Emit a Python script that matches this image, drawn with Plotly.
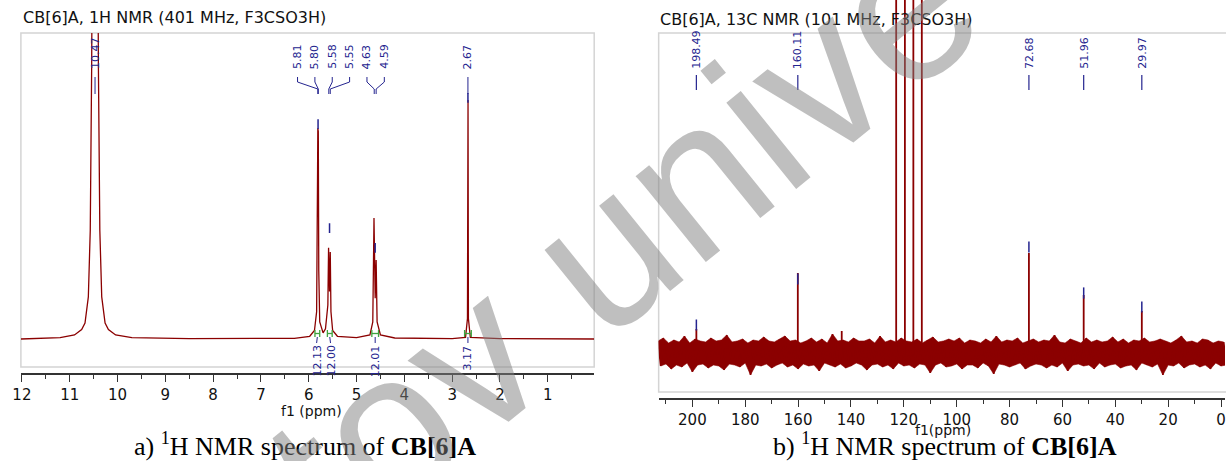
import plotly.graph_objects as go

W, H = 1226, 461

# ---------------- 1H NMR data (ppm, relative intensity) ----------------
h1_ppm = [12.02, 11.2, 10.9, 10.75, 10.68, 10.61, 10.57, 10.54, 10.51, 10.47, 10.43, 10.40,
          10.37, 10.33, 10.26, 10.19, 10.04, 9.7, 8.5, 6.3, 5.98, 5.88, 5.835, 5.815, 5.81,
          5.805, 5.80, 5.79, 5.77, 5.70, 5.65, 5.60, 5.585, 5.565, 5.55, 5.535, 5.50, 5.40,
          5.0, 4.72, 4.66, 4.635, 4.61, 4.59, 4.57, 4.50, 4.2, 3.0, 2.72, 2.68, 2.672, 2.668,
          2.66, 2.62, 2.0, 0.03]
h1_int = [0.0, 0.004, 0.012, 0.028, 0.047, 0.124, 0.32, 0.81, 1.8, 2.5, 1.8, 0.81,
          0.32, 0.124, 0.047, 0.028, 0.012, 0.004, 0.001, 0.002, 0.008, 0.025, 0.08, 0.5, 0.62,
          0.58, 0.61, 0.2, 0.05, 0.018, 0.03, 0.1, 0.268, 0.14, 0.256, 0.08, 0.025, 0.008,
          0.004, 0.012, 0.05, 0.356, 0.12, 0.232, 0.05, 0.012, 0.003, 0.001, 0.005, 0.06, 0.703, 0.703,
          0.06, 0.005, 0.001, 0.0]

h1_peak_labels = ["10.47", "5.81", "5.80", "5.58", "5.55", "4.63", "4.59", "2.67"]
h1_peak_ppm = [10.47, 5.81, 5.80, 5.58, 5.55, 4.63, 4.59, 2.67]
h1_label_groups = [[0], [1, 2, 3, 4, 5, 6], [7]]

h1_pick_ppm = [5.805, 5.565, 4.61, 2.67]
h1_pick_int = [0.632, 0.326, 0.268, 0.709]

h1_int_start = [5.87, 5.61, 4.68, 2.74]
h1_int_end = [5.77, 5.51, 4.54, 2.60]
h1_int_labels = ["12.13", "12.00", "12.01", "3.17"]

# ---------------- 13C NMR data (ppm, intensity a.u.) ----------------
c13_peak_ppm = [198.49, 160.11, 143.5, 122.9, 119.6, 116.4, 113.2, 72.68, 51.96, 29.97]
c13_peak_int = [24, 80, 22, 520, 520, 520, 520, 100, 58, 42]

c13_label_ppm = [198.49, 160.11, 72.68, 51.96, 29.97]
c13_labels = ["198.49", "160.11", "72.68", "51.96", "29.97"]
c13_pick_int = [28, 74, 106, 60, 46]

# baseline noise: upper excursions at odd ppm, lower excursions at even ppm
c13_noise_hi_ppm = [213 - 2 * i for i in range(108)]
c13_noise_lo_ppm = [212 - 2 * i for i in range(108)]
c13_noise_hi = [12, 15, 10, 13, 11, 17, 10, 14, 12, 11, 15, 12, 13, 18, 11, 12, 14, 10, 13, 12,
                16, 12, 11, 14, 17, 12, 13, 10, 12, 15, 11, 14, 10, 19, 12, 13, 11, 15, 12, 12,
                14, 10, 17, 11, 13, 11, 15, 12, 11, 14, 10, 13, 16, 11, 12, 14, 12, 15, 10, 13,
                12, 10, 14, 11, 17, 11, 13, 12, 15, 10, 12, 14, 11, 13, 12, 18, 11, 10, 14, 12,
                10, 15, 11, 13, 11, 12, 16, 11, 14, 10, 13, 12, 15, 11, 12, 14, 12, 10, 13, 17,
                11, 12, 10, 14, 13, 10, 12, 11]
c13_noise_lo = [-13, -11, -16, -12, -14, -10, -19, -12, -11, -15, -12, -13, -17, -11, -12, -14, -10, -22, -12, -13,
                -11, -15, -12, -10, -14, -12, -16, -11, -13, -12, -18, -10, -12, -14, -11, -15, -13, -10, -12, -17,
                -12, -11, -14, -12, -16, -10, -13, -12, -15, -11, -12, -20, -12, -10, -14, -13, -11, -16, -12, -12,
                -15, -10, -13, -21, -11, -12, -14, -12, -10, -16, -13, -11, -12, -15, -12, -14, -10, -18, -12, -11,
                -13, -12, -16, -10, -14, -12, -11, -15, -13, -12, -17, -10, -12, -14, -11, -22, -12, -13, -10, -15,
                -12, -11, -14, -12, -16, -10, -13, -12]

titles = ["CB[6]A, 1H NMR (401 MHz, F3CSO3H)", "CB[6]A, 13C NMR (101 MHz, F3CSO3H)"]
captions = ["a) <sup>1</sup>H NMR spectrum of <b>CB[6]A</b>",
            "b) <sup>1</sup>H NMR spectrum of <b>CB[6]A</b>"]
watermark = "tov unive"

# ---------------- style / layout helpers ----------------
RED = "#8b0000"
BLUE = "#24248f"
GREEN = "#3fa33f"
FRAME = "#d4d4d4"
AX = "#333333"
FONT = "DejaVu Sans"
LAB = 11


def px(x):
    return x / W


def py(y):
    return 1 - y / H


# left panel pixel geometry
L_X0, L_X1, L_TOP, L_AX = 12, 590, 33, 373
L_BASE, L_SCALE = 339, 340.0
L_PPM0, L_PXPPM = 591.4, 48.2
# right panel
R_X0, R_AX, R_BASE = 655, 398, 353
R_PPM0, R_PXPPM = 1222, 2.665


def ly(ypix):
    return (L_BASE - ypix) / L_SCALE


def ry(ypix):
    return float(R_BASE - ypix)


fig = go.Figure()

# ---- 1H spectrum ----
fig.add_trace(go.Scatter(x=h1_ppm, y=h1_int, mode="lines", line=dict(color=RED, width=1.3),
                         xaxis="x", yaxis="y", hoverinfo="skip"))

# integration brackets
bx, by = [], []
for s, e in zip(h1_int_start, h1_int_end):
    bx += [s, s, None, s, e, None, e, e, None]
    by += [ly(330), ly(337), None, ly(333.5), ly(333.5), None, ly(330), ly(337), None]
fig.add_trace(go.Scatter(x=bx, y=by, mode="lines", line=dict(color=GREEN, width=1.3),
                         xaxis="x", yaxis="y", hoverinfo="skip"))

# integral connectors + labels
centers = [(s + e) / 2 for s, e in zip(h1_int_start, h1_int_end)]
lab_pos = list(centers)
min_sep = 14 / L_PXPPM
for i in range(1, len(lab_pos)):
    if lab_pos[i - 1] - lab_pos[i] < min_sep:
        mid = (lab_pos[i - 1] + lab_pos[i]) / 2
        lab_pos[i - 1] = mid + min_sep / 2
        lab_pos[i] = mid - min_sep / 2
cx, cy = [], []
for c, lp in zip(centers, lab_pos):
    cx += [c, c, lp, lp, None]
    cy += [ly(337), ly(339), ly(341), ly(343), None]
fig.add_trace(go.Scatter(x=cx, y=cy, mode="lines", line=dict(color=BLUE, width=1),
                         xaxis="x", yaxis="y", hoverinfo="skip"))

annotations = []
for lp, t in zip(lab_pos, h1_int_labels):
    annotations.append(dict(x=lp, y=py(343), xref="x", yref="paper", text=t, textangle=-90,
                            showarrow=False, xanchor="center", yanchor="top",
                            font=dict(family=FONT, size=LAB, color=BLUE)))

# peak labels with connectors
spacing = 17.5 / L_PXPPM
kx, ky = [], []
for grp in h1_label_groups:
    mean = sum(h1_peak_ppm[i] for i in grp) / len(grp)
    n = len(grp)
    for k, i in enumerate(grp):
        lx = mean + ((n - 1) / 2 - k) * spacing
        pk = h1_peak_ppm[i]
        kx += [lx, lx, pk, pk, None]
        ky += [ly(77), ly(82), ly(89), ly(94), None]
        annotations.append(dict(x=lx, y=py(71), xref="x", yref="paper", text=h1_peak_labels[i],
                                textangle=-90, showarrow=False, xanchor="center", yanchor="bottom",
                                font=dict(family=FONT, size=LAB, color=BLUE)))
fig.add_trace(go.Scatter(x=kx, y=ky, mode="lines", line=dict(color=BLUE, width=1),
                         xaxis="x", yaxis="y", hoverinfo="skip"))

fig.add_trace(go.Scatter(x=h1_pick_ppm, y=h1_pick_int, mode="markers",
                         marker=dict(symbol="line-ns", size=7, line=dict(color=BLUE, width=1.5)),
                         xaxis="x", yaxis="y", hoverinfo="skip"))

# ---- 13C spectrum ----
# solid core of the noise band (envelope polygon)
fig.add_trace(go.Scatter(x=c13_noise_hi_ppm + c13_noise_lo_ppm[::-1],
                         y=c13_noise_hi + c13_noise_lo[::-1],
                         mode="lines", fill="toself", fillcolor=RED, line=dict(color=RED, width=0.6),
                         xaxis="x2", yaxis="y2", hoverinfo="skip"))
# individual noise excursions
nx, ny = [], []
for a, b, u, d in zip(c13_noise_hi_ppm, c13_noise_lo_ppm, c13_noise_hi, c13_noise_lo):
    nx += [a, b]
    ny += [u, d]
fig.add_trace(go.Scatter(x=nx, y=ny, mode="lines", line=dict(color=RED, width=1.6),
                         xaxis="x2", yaxis="y2", hoverinfo="skip"))
pkx, pky = [], []
for p, h in zip(c13_peak_ppm, c13_peak_int):
    pkx += [p, p, None]
    pky += [0, h, None]
fig.add_trace(go.Scatter(x=pkx, y=pky, mode="lines", line=dict(color=RED, width=1.8),
                         xaxis="x2", yaxis="y2", hoverinfo="skip"))
fig.add_trace(go.Scatter(x=c13_label_ppm, y=c13_pick_int, mode="markers",
                         marker=dict(symbol="line-ns", size=8, line=dict(color=BLUE, width=1.5)),
                         xaxis="x2", yaxis="y2", hoverinfo="skip"))
lx2, ly2 = [], []
for p, t in zip(c13_label_ppm, c13_labels):
    lx2 += [p, p, None]
    ly2 += [ry(75), ry(90), None]
    annotations.append(dict(x=p, y=py(71), xref="x2", yref="paper", text=t, textangle=-90,
                            showarrow=False, xanchor="center", yanchor="bottom",
                            font=dict(family=FONT, size=LAB, color=BLUE)))
fig.add_trace(go.Scatter(x=lx2, y=ly2, mode="lines", line=dict(color=BLUE, width=1.2),
                         xaxis="x2", yaxis="y2", hoverinfo="skip"))

# ---- titles, axis titles, captions, watermark ----
annotations += [
    dict(x=px(12), y=py(17), xref="paper", yref="paper", text=titles[0], showarrow=False,
         xanchor="left", yanchor="middle", font=dict(family=FONT, size=16, color="#111")),
    dict(x=px(654), y=py(19), xref="paper", yref="paper", text=titles[1], showarrow=False,
         xanchor="left", yanchor="middle", font=dict(family=FONT, size=16, color="#111")),
    dict(x=px(305), y=py(411), xref="paper", yref="paper", text="f1 (ppm)", showarrow=False,
         xanchor="center", yanchor="middle", font=dict(family=FONT, size=14, color="#111")),
    dict(x=px(942), y=py(430), xref="paper", yref="paper", text="f1(ppm)", showarrow=False,
         xanchor="center", yanchor="middle", font=dict(family=FONT, size=14, color="#111")),
    dict(x=px(298), y=py(444), xref="paper", yref="paper", text=captions[0], showarrow=False,
         xanchor="center", yanchor="middle", font=dict(family="Liberation Serif", size=26, color="#000")),
    dict(x=px(944), y=py(444), xref="paper", yref="paper", text=captions[1], showarrow=False,
         xanchor="center", yanchor="middle", font=dict(family="Liberation Serif", size=26, color="#000")),
    dict(x=px(618), y=py(236), xref="paper", yref="paper", text=watermark, showarrow=False,
         textangle=-39, xanchor="center", yanchor="middle",
         font=dict(family="Liberation Sans", size=210, color="rgba(128,128,128,0.5)")),
]

shapes = [
    dict(type="rect", xref="paper", yref="paper", x0=px(L_X0), x1=px(L_X1), y0=py(367), y1=py(L_TOP),
         line=dict(color=FRAME, width=1.5), layer="below"),
    dict(type="rect", xref="paper", yref="paper", x0=px(R_X0), x1=1.02, y0=py(392), y1=py(33),
         line=dict(color=FRAME, width=1.5), layer="below"),
]

axis_common = dict(showgrid=False, zeroline=False, showline=True, linecolor=AX, linewidth=1.5,
                   ticks="outside", ticklen=7, tickwidth=1.3, tickcolor=AX, ticklabeloverflow="allow",
                   tickfont=dict(family=FONT, size=15, color="#111"))

fig.update_layout(
    width=W, height=H, autosize=False,
    margin=dict(l=0, r=0, t=0, b=0),
    paper_bgcolor="white", plot_bgcolor="rgba(0,0,0,0)",
    showlegend=False,
    xaxis=dict(domain=[px(L_X0), px(L_X1)],
               range=[(L_PPM0 - L_X0) / L_PXPPM, (L_PPM0 - L_X1) / L_PXPPM],
               anchor="y", dtick=1, tick0=0,
               minor=dict(dtick=0.5, ticks="outside", ticklen=4, tickcolor=AX, showgrid=False),
               **axis_common),
    yaxis=dict(domain=[py(L_AX), py(L_TOP)], range=[ly(L_AX), ly(L_TOP)], visible=False, anchor="x"),
    xaxis2=dict(domain=[px(R_X0), 1.0],
                range=[(R_PPM0 - R_X0) / R_PXPPM, (R_PPM0 - W) / R_PXPPM],
                anchor="y2", dtick=20, tick0=0,
                minor=dict(dtick=10, ticks="outside", ticklen=4, tickcolor=AX, showgrid=False),
                **axis_common),
    yaxis2=dict(domain=[py(R_AX), 1.0], range=[ry(R_AX), ry(0)], visible=False, anchor="x2"),
    annotations=annotations,
    shapes=shapes,
)

fig.write_html("out.html")
